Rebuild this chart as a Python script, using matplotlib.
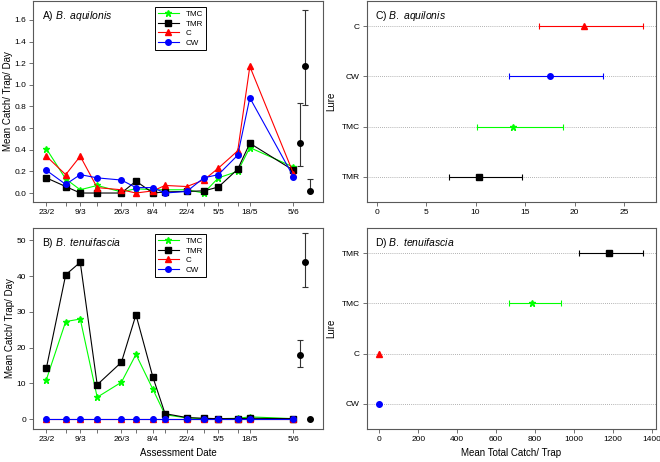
import numpy as np
import matplotlib
matplotlib.use("Agg")
import matplotlib.pyplot as plt

plt.rcParams['font.family'] = ['Liberation Sans', 'DejaVu Sans']
plt.rcParams['mathtext.fontset'] = 'custom'
plt.rcParams['mathtext.rm'] = 'Liberation Sans'
plt.rcParams['mathtext.it'] = 'Liberation Sans:italic'

# assessment dates as day of year
days = [54, 62, 68, 75, 85, 91, 98, 103, 112, 119, 125, 133, 138, 156]
day_labels = ['23/2', '', '9/3', '', '26/3', '', '8/4', '', '22/4', '', '5/5', '', '18/5', '5/6']

# A) B. aquilonis, mean catch / trap / day
aq_tmc = [0.41, 0.13, 0.03, 0.07, 0.01, 0.04, 0.03, 0.03, 0.03, 0.00, 0.14, 0.20, 0.42, 0.24]
aq_tmr = [0.14, 0.06, 0.00, 0.00, 0.00, 0.11, 0.00, 0.01, 0.015, 0.02, 0.055, 0.22, 0.46, 0.21]
aq_c = [0.34, 0.17, 0.34, 0.05, 0.03, 0.00, 0.02, 0.07, 0.06, 0.12, 0.23, 0.39, 1.17, 0.18]
aq_cw = [0.21, 0.08, 0.17, 0.14, 0.12, 0.05, 0.05, 0.00, 0.015, 0.14, 0.17, 0.35, 0.88, 0.15]

# B) B. tenuifascia
te_tmc = [11.0, 27.3, 28.0, 6.1, 10.3, 18.1, 8.3, 1.2, 0.3, 0.1, 0.1, 0.2, 0.6, 0.1]
te_tmr = [14.2, 40.4, 43.9, 9.6, 15.9, 29.2, 11.7, 1.5, 0.4, 0.2, 0.1, 0.1, 0.2, 0.1]
te_c = [0.0] * 14
te_cw = [0.0] * 14

# representative mean +/- error points at right of time panels
err_x = [158.8, 160.7, 162.8]
aq_err_mean = [0.46, 1.17, 0.02]
aq_err_lo = [0.25, 0.81, 0.02]
aq_err_hi = [0.83, 1.69, 0.13]
te_err_mean = [18.0, 44.0, 0.0]
te_err_lo = [14.5, 37.0, 0.0]
te_err_hi = [22.2, 52.0, 0.0]

# C) / D) mean total catch per trap with CI
lures_c = ['TMR', 'TMC', 'CW', 'C']
aq_tot = [10.3, 13.8, 17.5, 21.0]
aq_tot_lo = [7.3, 10.15, 13.35, 16.4]
aq_tot_hi = [14.7, 18.8, 22.9, 26.9]

lures_d = ['CW', 'C', 'TMC', 'TMR']
te_tot = [0.0, 0.0, 786, 1182]
te_tot_lo = [0.0, 0.0, 667, 1028]
te_tot_hi = [0.0, 0.0, 932, 1354]

styles = {
    'TMC': dict(color='#00ff00', marker='*', ms=5),
    'TMR': dict(color='black', marker='s', ms=4),
    'C': dict(color='red', marker='^', ms=4),
    'CW': dict(color='blue', marker='o', ms=4),
}

W, H = 660, 462
fig = plt.figure(figsize=(6.6, 4.62), dpi=100)


def box(l, t, r, b):
    return [l / W, 1 - b / H, (r - l) / W, (b - t) / H]


axA = fig.add_axes(box(33, 1, 323, 202))
axB = fig.add_axes(box(33, 228, 323, 429))
axC = fig.add_axes(box(366.7, 1, 655.7, 202))
axD = fig.add_axes(box(366.7, 228, 655.7, 429))

fs = 6.0


def style_axes(ax):
    for s in ax.spines.values():
        s.set_color('0.35')
        s.set_linewidth(0.8)
    ax.tick_params(labelsize=fs, length=3, width=0.6, color='0.35', pad=2)


def time_panel(ax, series, em, elo, ehi, title):
    for name, vals in series:
        st = styles[name]
        ax.plot(days, vals, color=st['color'], marker=st['marker'], ms=st['ms'],
                lw=0.8, label=name)
    em = np.array(em)
    yerr = [em - np.array(elo), np.array(ehi) - em]
    ax.errorbar(err_x, em, yerr=yerr, fmt='o', color='black', ms=4,
                ecolor='0.2', elinewidth=0.8, capsize=2.5, capthick=0.8)
    ax.set_xlim(48.5, 168.2)
    ax.set_xticks(days)
    ax.set_xticklabels(day_labels)
    ax.set_ylabel('Mean Catch/ Trap/ Day', fontsize=7, labelpad=1)
    ax.text(0.03, 0.96, title, transform=ax.transAxes, fontsize=7.5, va='top')
    leg = ax.legend(loc='upper left', bbox_to_anchor=(0.42, 0.97), borderaxespad=0,
                    fontsize=5.8, fancybox=False, edgecolor='black', framealpha=1,
                    handlelength=2.6, labelspacing=0.25, borderpad=0.4)
    leg.get_frame().set_linewidth(0.7)
    style_axes(ax)


time_panel(axA, [('TMC', aq_tmc), ('TMR', aq_tmr), ('C', aq_c), ('CW', aq_cw)],
           aq_err_mean, aq_err_lo, aq_err_hi, r'A) $\it{B.\ aquilonis}$')
axA.set_ylim(-0.083, 1.775)
axA.set_yticks(np.arange(0, 1.61, 0.2))
axA.yaxis.set_major_formatter(matplotlib.ticker.FormatStrFormatter('%.1f'))

time_panel(axB, [('TMC', te_tmc), ('TMR', te_tmr), ('C', te_c), ('CW', te_cw)],
           te_err_mean, te_err_lo, te_err_hi, r'B) $\it{B.\ tenuifascia}$')
axB.set_ylim(-2.8, 53.5)
axB.set_yticks(np.arange(0, 51, 10))
axB.set_xlabel('Assessment Date', fontsize=7)


def lure_panel(ax, lures, vals, lo, hi, title):
    pos = np.arange(1, len(lures) + 1)
    for p in pos:
        ax.axhline(p, color='0.6', lw=0.6, ls=(0, (1, 1.5)), zorder=0)
    for p, name, v, l, h in zip(pos, lures, vals, lo, hi):
        st = styles[name]
        ax.errorbar([v], [p], xerr=[[v - l], [h - v]], fmt=st['marker'],
                    color=st['color'], ms=st['ms'], elinewidth=0.8,
                    capsize=2.5, capthick=0.8)
    ax.set_yticks(pos)
    ax.set_yticklabels(lures)
    ax.set_ylim(0.5, len(lures) + 0.5)
    ax.set_ylabel('Lure', fontsize=7)
    ax.text(0.03, 0.96, title, transform=ax.transAxes, fontsize=7.5, va='top')
    style_axes(ax)


lure_panel(axC, lures_c, aq_tot, aq_tot_lo, aq_tot_hi, r'C) $\it{B.\ aquilonis}$')
axC.set_xlim(-1.0, 28.2)
axC.set_xticks(np.arange(0, 26, 5))

lure_panel(axD, lures_d, te_tot, te_tot_lo, te_tot_hi, r'D) $\it{B.\ tenuifascia}$')
axD.set_xlim(-65, 1420)
axD.set_xticks(np.arange(0, 1401, 200))
axD.set_xlabel('Mean Total Catch/ Trap', fontsize=7)

fig.savefig('out.png', dpi=100)
